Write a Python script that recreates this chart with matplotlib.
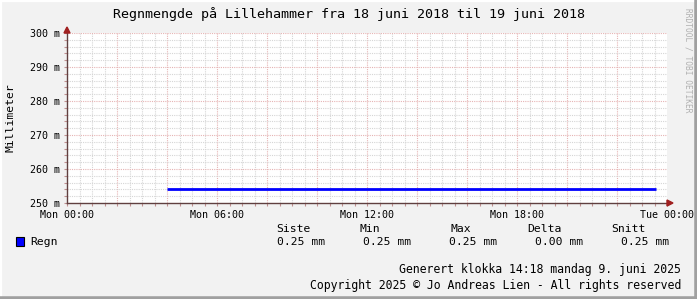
import numpy as np
import matplotlib.pyplot as plt
from matplotlib.ticker import MultipleLocator, FuncFormatter
from matplotlib.patches import Rectangle

# data (timer fra Mon 00:00, verdi i mm)
hours = [4.0, 23.55]
rain = [0.254, 0.254]
xticks = [0, 6, 12, 18, 24]
xlabels = ['Mon 00:00', 'Mon 06:00', 'Mon 12:00', 'Mon 18:00', 'Tue 00:00']
yticks = [0.25, 0.26, 0.27, 0.28, 0.29, 0.30]
stat_names = ['Siste', 'Min', 'Max', 'Delta', 'Snitt']
stat_vals = [0.25, 0.25, 0.25, 0.00, 0.25]

W, H = 697, 299
mono = 'DejaVu Sans Mono'
fig = plt.figure(figsize=(W/100, H/100), dpi=100, facecolor='#f2f2f2')

def px(x, y):
    return x / W, 1 - y / H

# ramme (3D-kant)
fig.add_artist(plt.Line2D([0, 0, 1], [0, 1, 1], transform=fig.transFigure, color='#ffffff', lw=3))
fig.add_artist(plt.Line2D([0, 1, 1], [0, 0, 1], transform=fig.transFigure, color='#a0a0a0', lw=4))

x0, x1, ytop, ybot = 67, 667, 33, 203
ax = fig.add_axes([x0/W, 1 - ybot/H, (x1-x0)/W, (ybot-ytop)/H])
ax.set_facecolor('white')
ax.plot(hours, rain, color='#0000ff', lw=2, solid_capstyle='butt')
ax.set_xlim(0, 24)
ax.set_ylim(0.25, 0.30)

ax.set_xticks(xticks)
ax.set_xticklabels(xlabels)
ax.set_yticks(yticks)
ax.yaxis.set_major_formatter(FuncFormatter(lambda v, p: '%d m' % round(v*1000)))
ax.xaxis.set_minor_locator(MultipleLocator(0.5))
ax.yaxis.set_minor_locator(MultipleLocator(0.002))

# rutenett
for h in np.arange(0.5, 24, 0.5):
    major = (h % 2 == 0)
    ax.axvline(h, color='#e6b4b4' if major else '#d6d6d6', lw=0.8,
               linestyle=(0, (1, 1)), zorder=0)
for v in np.arange(0.252, 0.3001, 0.002):
    major = abs(round(v*1000) % 10) == 0
    ax.axhline(v, color='#e6b4b4' if major else '#d6d6d6', lw=0.8,
               linestyle=(0, (1, 1)), zorder=0)

for s in ['top', 'right']:
    ax.spines[s].set_visible(False)
for s in ['left', 'bottom']:
    ax.spines[s].set_color('#604040')
    ax.spines[s].set_linewidth(1)
ax.tick_params(which='both', length=2, width=0.8, color='#c09090', pad=3, labelsize=7.2)
for lab in ax.get_xticklabels() + ax.get_yticklabels():
    lab.set_family(mono)

# piler
fig.add_artist(plt.Polygon([px(x1, ybot - 3), px(x1, ybot + 3), px(x1 + 6, ybot)],
                           closed=True, transform=fig.transFigure, color='#a02020'))
fig.add_artist(plt.Polygon([px(x0 - 3, ytop), px(x0 + 3, ytop), px(x0, ytop - 6)],
                           closed=True, transform=fig.transFigure, color='#a02020'))

# tekster
fig.text(*px(349, 14), 'Regnmengde på Lillehammer fra 18 juni 2018 til 19 juni 2018',
         ha='center', va='center', family=mono, fontsize=9.6)
fig.text(*px(11, 118), 'Millimeter', rotation=90, ha='center', va='center',
         family=mono, fontsize=8.2)
fig.text(*px(688, 60), 'RRDTOOL / TOBI OETIKER', rotation=270, ha='center', va='center',
         family=mono, fontsize=5.7, color='#b0b0b0')

# forklaring
fig.add_artist(Rectangle(px(16, 246), 8/W, 9/H, transform=fig.transFigure,
                         facecolor='#0000ff', edgecolor='black', lw=0.8))
fig.text(*px(30, 242), 'Regn', ha='left', va='center', family=mono, fontsize=8.2)
head_x = [293, 370, 461, 544, 628]
val_x = [301, 387, 473, 559, 645]
for name, val, hx, vx in zip(stat_names, stat_vals, head_x, val_x):
    fig.text(*px(hx, 229), name, ha='center', va='center', family=mono, fontsize=8.2)
    fig.text(*px(vx, 242), '%.2f mm' % val, ha='center', va='center', family=mono, fontsize=8.2)

fig.text(*px(681, 270), 'Generert klokka 14:18 mandag 9. juni 2025',
         ha='right', va='center', family=mono, fontsize=8.3)
fig.text(*px(681, 285), 'Copyright 2025 © Jo Andreas Lien - All rights reserved',
         ha='right', va='center', family=mono, fontsize=8.3)

fig.savefig('out.png', dpi=100, facecolor=fig.get_facecolor())
